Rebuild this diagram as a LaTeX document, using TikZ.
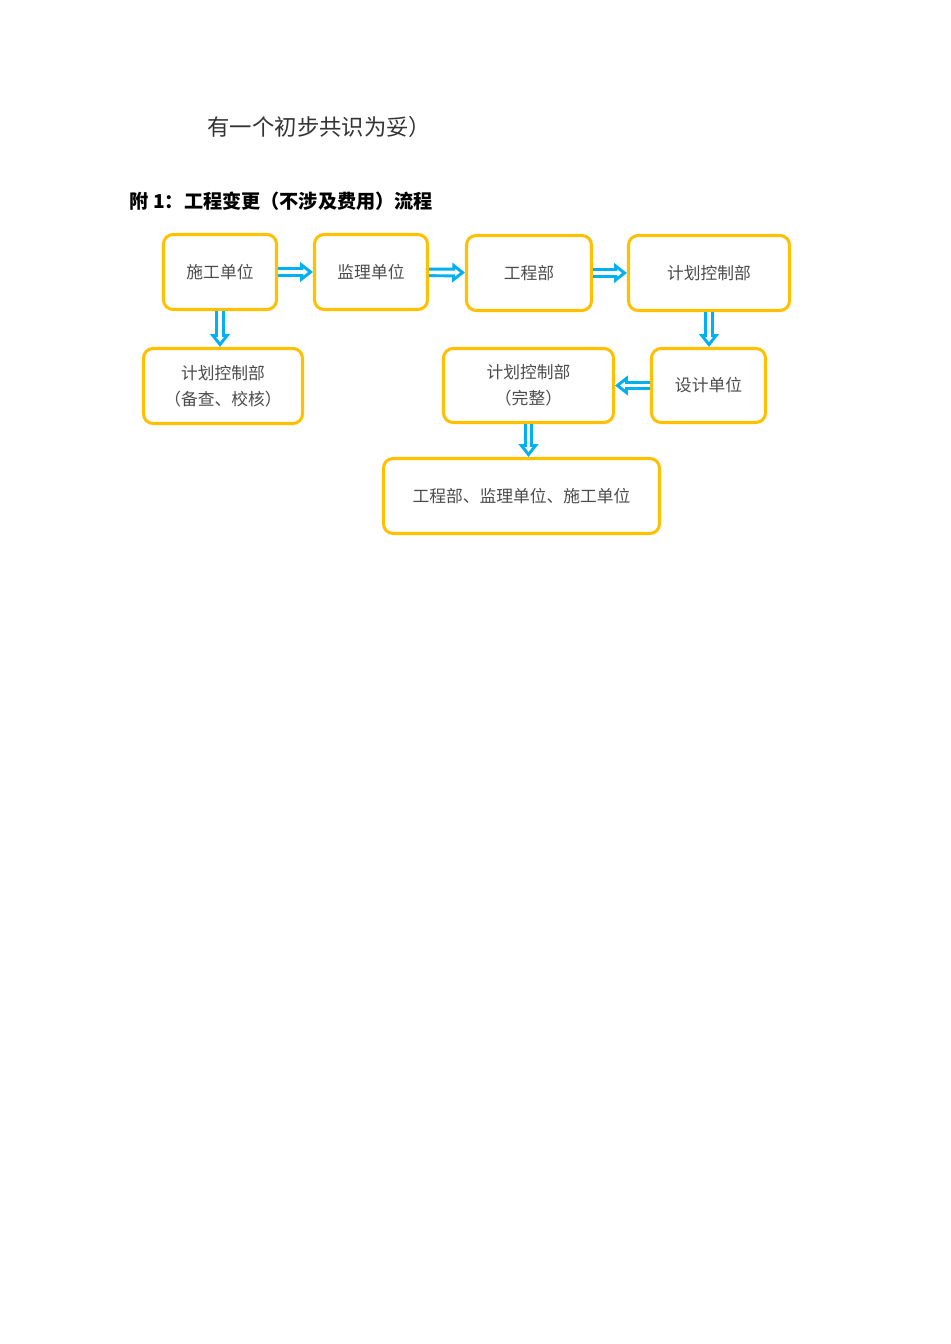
\documentclass[tikz,border=0pt]{standalone}
\usepackage{fontspec}
\newfontfamily\cjk{Noto Sans CJK SC}
\usetikzlibrary{arrows.meta}
\definecolor{boxyellow}{RGB}{255,192,0}
\definecolor{flowblue}{RGB}{0,176,240}
\newcommand{\pxu}{0.6265pt}

\begin{document}
\begin{tikzpicture}[x=0.6265pt,y=-0.6265pt,
	box/.style={draw=boxyellow, line width=1.9pt, rounded corners=6pt, fill=white, text=black!70, align=center, inner sep=0pt, font=\cjk\fontsize{10.5pt}{16pt}\selectfont},
	flow/.style={draw=flowblue, line width=6pt, -{Triangle[length=8pt,width=12pt]},
		postaction={draw=white, line width=2.3pt, shorten >=3.2pt, -{Triangle[length=2.9pt,width=4.4pt]}}}] %Início do fluxograma
					\useasboundingbox (0,0) rectangle (950,1344); %Página
						%Textos
					\node[anchor=west, text=black!80, font=\cjk\fontsize{14pt}{16pt}\selectfont] (intro) at (202,127) {有一个初步共识为妥）};
					\node[anchor=west, font=\cjk\bfseries\fontsize{12pt}{14pt}\selectfont] (title) at (124,201) {附 1：工程变更（不涉及费用）流程};
						%Caixas
					\node[box, minimum width=113*\pxu, minimum height=75*\pxu] (sg1) at (220,272) {施工单位};
					\node[box, minimum width=113*\pxu, minimum height=75*\pxu] (jl) at (371,272) {监理单位};
					\node[box, minimum width=125*\pxu, minimum height=75*\pxu] (gc1) at (529,273) {工程部};
					\node[box, minimum width=161*\pxu, minimum height=75*\pxu] (jh1) at (709,273) {计划控制部};
					\node[box, minimum width=159*\pxu, minimum height=75*\pxu] (jh2) at (223,386) {计划控制部\\（备查、校核）};
					\node[box, minimum width=114*\pxu, minimum height=74*\pxu] (sj) at (708.5,385.5) {设计单位};
					\node[box, minimum width=170*\pxu, minimum height=74*\pxu] (jh3) at (528.5,385.5) {计划控制部\\（完整）};
					\node[box, minimum width=276*\pxu, minimum height=75*\pxu] (all) at (521.5,496) {工程部、监理单位、施工单位};
						%Setas
					\draw[flow] (sg1) -- (jl); %施工 -> 监理
					\draw[flow] (jl) -- (gc1); %监理 -> 工程部
					\draw[flow] (gc1.east) -- (jh1.west |- gc1.east); %工程部 -> 计划控制部
					\draw[flow] (sg1.south) -- (sg1.south |- jh2.north); %施工 -> 备查
					\draw[flow] (jh1.south) -- (jh1.south |- sj.north); %计划控制部 -> 设计
					\draw[flow] (sj.west) -- (jh3.east |- sj.west); %设计 -> 完整
					\draw[flow] (jh3.south) -- (jh3.south |- all.north); %完整 -> 各单位
				\end{tikzpicture}
\end{document}
